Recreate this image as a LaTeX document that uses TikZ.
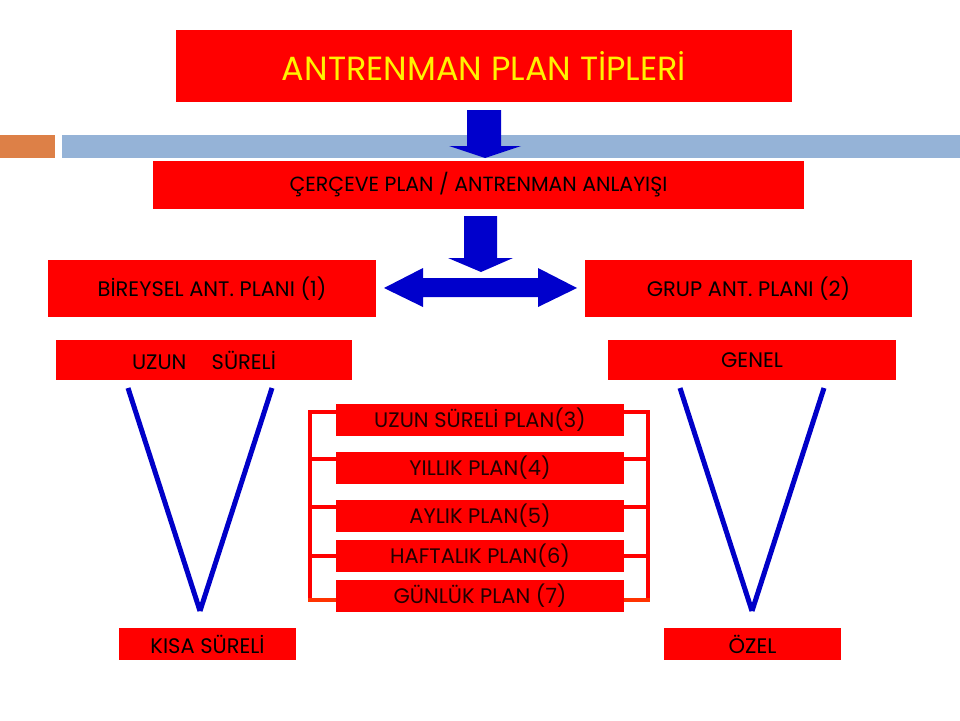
\documentclass[tikz,border=0pt]{standalone}
\usepackage{fontspec}
\setmainfont{Poppins}
\usetikzlibrary{calc}
\definecolor{boxred}{HTML}{FF0000}
\definecolor{arrblue}{HTML}{0000CC}
\definecolor{vblue}{HTML}{0000C8}
\definecolor{barblue}{HTML}{95B3D7}
\definecolor{barorange}{HTML}{DD8047}
\definecolor{brkorange}{HTML}{FF3300}
\definecolor{midtext}{HTML}{220000}
\tikzset{
  redbox/.style={fill=boxred, draw=none, inner sep=0pt, anchor=center, font=\fontsize{21}{24}\selectfont, text=black},
  blockarrow/.style={fill=arrblue, draw=none},
  vline/.style={draw=vblue, line width=5pt},
  brk/.style={draw=boxred, line width=4pt},
  brkb/.style={draw=brkorange, line width=4pt},
}
\begin{document}
\begin{tikzpicture}[x=1pt,y=-1pt]
\useasboundingbox (0,0) rectangle (960,720);
% decorative bar
\fill[barorange] (0,135) rectangle (55,158);
\fill[barblue] (62,135) rectangle (960,158);
% boxes
\node[redbox, minimum width=616pt, minimum height=72pt, text=yellow, font=\fontsize{33.5}{38}\selectfont] (title) at (484,66) {ANTRENMAN PLAN TİPLERİ};
\node[redbox, minimum width=651pt, minimum height=48pt, font=\fontsize{20.5}{24}\selectfont] (frame) at (478.5,185) {ÇERÇEVE PLAN / ANTRENMAN ANLAYIŞI};
\node[redbox, minimum width=328pt, minimum height=57pt] (bir) at (212,288.5) {BİREYSEL ANT. PLANI (1)};
\node[redbox, minimum width=327pt, minimum height=57pt] (grup) at (748.5,288.5) {GRUP ANT. PLANI (2)};
\node[redbox, minimum width=296pt, minimum height=40pt] (uzun) at (204,360) {UZUN\hspace{1.2em}SÜRELİ};
\node[redbox, minimum width=288pt, minimum height=40pt] (genel) at (752,360) {GENEL};
\node[redbox, minimum width=177pt, minimum height=32pt] (kisa) at (207.5,644) {KISA SÜRELİ};
\node[redbox, minimum width=177pt, minimum height=32pt] (ozel) at (752.5,644) {ÖZEL};
% arrows
\fill[blockarrow] (467,110) -- (501,110) -- (501,146) -- (521,146) -- (485,158) -- (449,146) -- (467,146) -- cycle;
\fill[blockarrow] (464,216) -- (497,216) -- (497,258) -- (513,258) -- (481,272) -- (448,258) -- (464,258) -- cycle;
\fill[blockarrow] (384,288) -- (423,268) -- (423,278) -- (538,278) -- (538,268) -- (577,288) -- (538,307) -- (538,297) -- (423,297) -- (423,307) -- cycle;
% V shapes
\coordinate (vl1) at (128,388); \coordinate (vl2) at (272,388); \coordinate (vlb) at (200,611);
\coordinate (vr1) at (680,388); \coordinate (vr2) at (824,388); \coordinate (vrb) at (752,611);
\draw[vline] (vl1) -- (vlb); \draw[vline] (vl2) -- (vlb);
\draw[vline] (vr1) -- (vrb); \draw[vline] (vr2) -- (vrb);
% bracket
\coordinate (bl1) at (310,410); \coordinate (bl2) at (310,602);
\coordinate (br1) at (648,410); \coordinate (br2) at (648,602);
\draw[brk] (bl1) -- (bl2);
\draw[brk] (br1) -- (br2);
\foreach \y in {412,459,507,556} {
  \draw[brk] (308,\y) -- (340,\y);
  \draw[brk] (620,\y) -- (650,\y);
}
\draw[brkb] (308,600) -- (340,600);
\draw[brkb] (620,600) -- (650,600);
% middle boxes
\begin{scope}[every node/.style={redbox, minimum width=288pt, minimum height=32pt, text=midtext}]
\node (p3) at (480,420) {UZUN SÜRELİ PLAN(3)};
\node (p4) at (480,468) {YILLIK PLAN(4)};
\node (p5) at (480,516) {AYLIK PLAN(5)};
\node (p6) at (480,556) {HAFTALIK PLAN(6)};
\node (p7) at (480,596) {GÜNLÜK PLAN (7)};
\end{scope}
\end{tikzpicture}
\end{document}
